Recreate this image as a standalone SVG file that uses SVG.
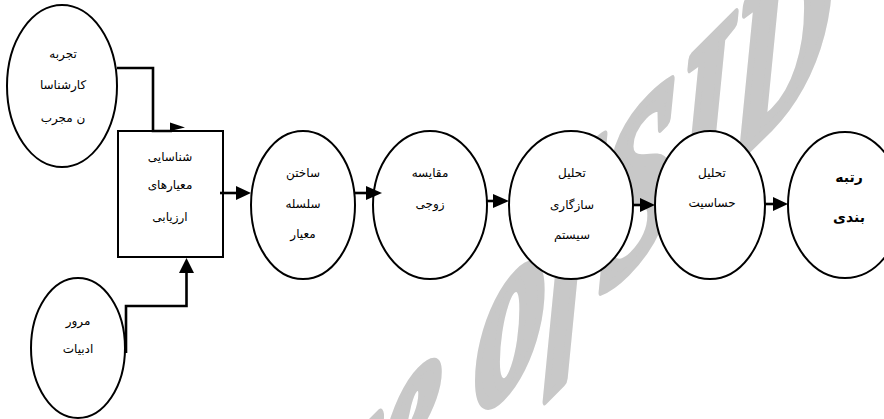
<svg xmlns="http://www.w3.org/2000/svg" width="884" height="419" viewBox="0 0 884 419">
<style>
.shape{fill:#fff;stroke:#000;stroke-width:2}
.lbl{font-family:"DejaVu Sans","Liberation Sans",sans-serif;font-size:12px;fill:#000;text-anchor:middle}
.big{font-size:14px;font-weight:bold}
.wire{fill:none;stroke:#000;stroke-width:2.6}
.head{fill:#000;stroke:none}
.wm{font-family:"Liberation Serif",serif;font-style:italic;font-weight:bold;font-size:225px;fill:#c8c8c8;stroke:#c8c8c8;stroke-width:11;stroke-linejoin:round}
</style>
<rect width="884" height="419" fill="#fff"/>
<g id="watermark" transform="translate(-8,905) matrix(1,-1,0,1,0,0) scale(0.62,1)">
<text class="wm" x="0" y="0">Archive of <tspan dx="-45">SID</tspan></text>
</g>
<g id="n-experts">
<ellipse class="shape" cx="62" cy="86" rx="55" ry="81"/>
<text class="lbl" x="63" y="58">تجربه</text>
<text class="lbl" x="63" y="89">کارشناسا</text>
<text class="lbl" x="63" y="122">ن مجرب</text>
</g>
<g id="n-literature">
<ellipse class="shape" cx="78" cy="348" rx="47" ry="70"/>
<text class="lbl" x="78" y="325">مرور</text>
<text class="lbl" x="78" y="353">ادبیات</text>
</g>
<g id="n-identify">
<rect class="shape" x="118" y="131" width="105" height="126"/>
<text class="lbl" x="170" y="161">شناسایی</text>
<text class="lbl" x="170" y="189">معیارهای</text>
<text class="lbl" x="170" y="221">ارزیابی</text>
</g>
<g id="n-hierarchy">
<ellipse class="shape" cx="303" cy="205" rx="52" ry="74"/>
<text class="lbl" x="303" y="177">ساختن</text>
<text class="lbl" x="303" y="208">سلسله</text>
<text class="lbl" x="303" y="238">معیار</text>
</g>
<g id="n-pairwise">
<ellipse class="shape" cx="430" cy="205" rx="57" ry="74"/>
<text class="lbl" x="430" y="177">مقایسه</text>
<text class="lbl" x="430" y="208">زوجی</text>
</g>
<g id="n-consistency">
<ellipse class="shape" cx="571" cy="205" rx="62" ry="74"/>
<text class="lbl" x="572" y="177">تحلیل</text>
<text class="lbl" x="572" y="209">سازگاری</text>
<text class="lbl" x="572" y="239">سیستم</text>
</g>
<g id="n-sensitivity">
<ellipse class="shape" cx="710" cy="205" rx="55" ry="74"/>
<text class="lbl" x="712" y="177">تحلیل</text>
<text class="lbl" x="712" y="207">حساسیت</text>
</g>
<g id="n-ranking">
<ellipse class="shape" cx="845" cy="205" rx="57" ry="73"/>
<text class="lbl big" x="849" y="182">رتبه</text>
<text class="lbl big" x="849" y="222">بندی</text>
</g>
<g id="connectors">
<path class="wire" d="M117,68 H153 V131 H172"/>
<polygon class="head" points="170,122.5 185,127.5 170,131"/>
<path class="wire" d="M126,353 V306 H186.5 V272"/>
<polygon class="head" points="179,273 186.5,258 194,273"/>
<path class="wire" d="M220,193 H237"/>
<polygon class="head" points="236,186 251,193 236,200"/>
<path class="wire" d="M355,193 H367"/>
<polygon class="head" points="366,186 382,193 366,200"/>
<path class="wire" d="M487,201 H494"/>
<polygon class="head" points="493,194 509,201 493,208"/>
<path class="wire" d="M633,205 H641"/>
<polygon class="head" points="640,198 655,205 640,212"/>
<path class="wire" d="M765,204 H774"/>
<polygon class="head" points="773,197 788,204 773,211"/>
</g>
</svg>
